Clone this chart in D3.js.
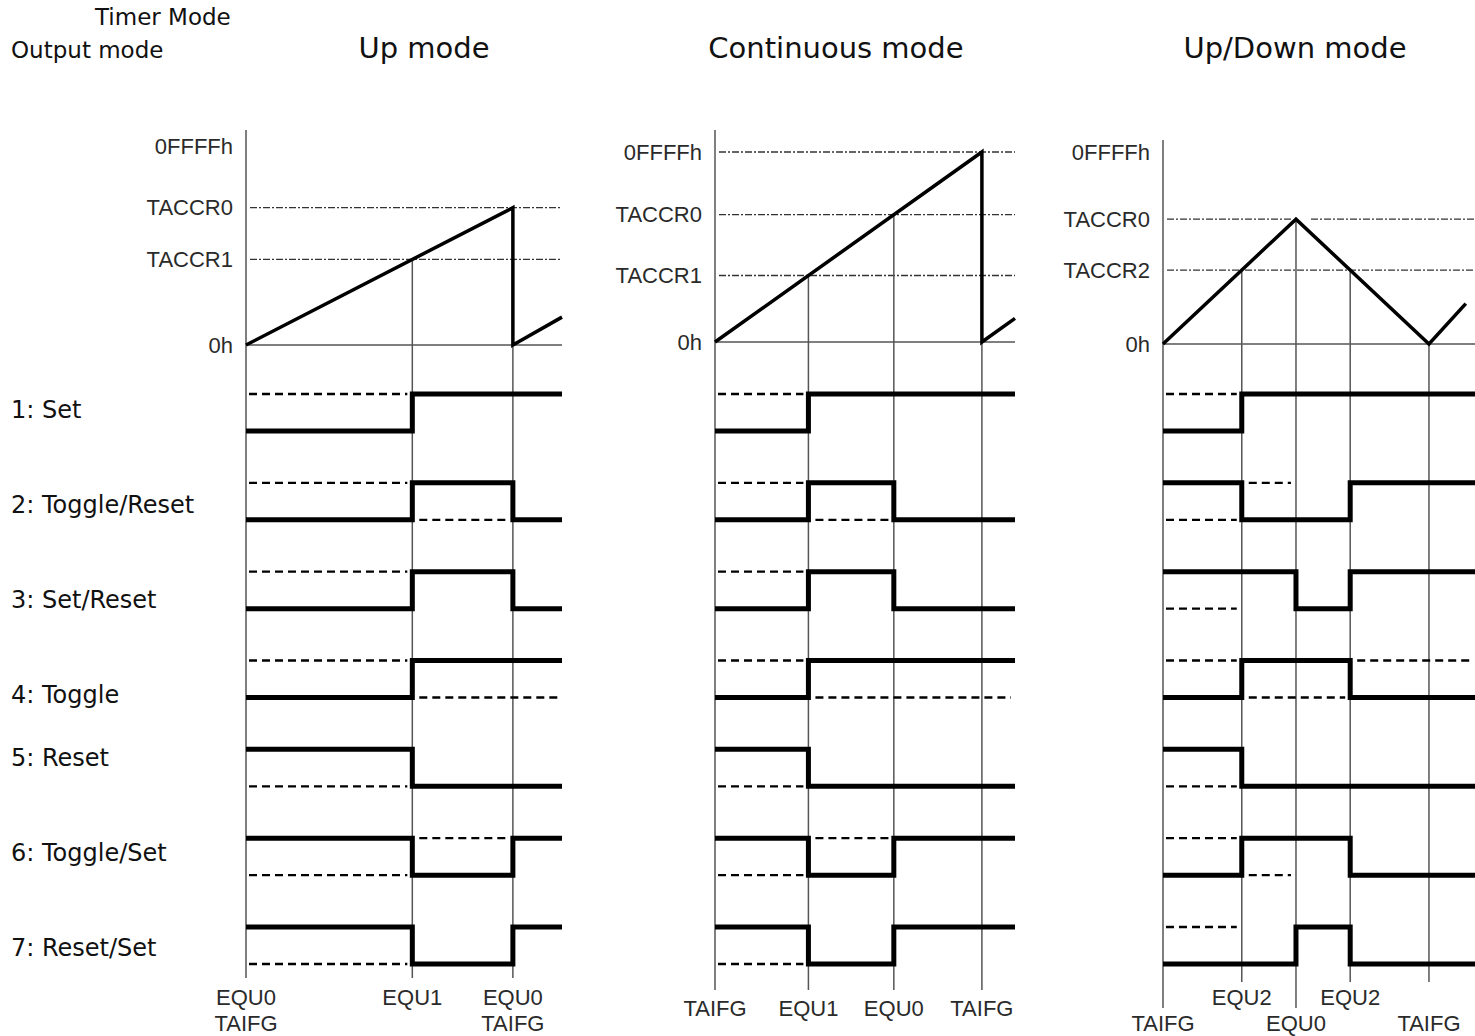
<!DOCTYPE html>
<html>
<head>
<meta charset="utf-8">
<title>Timer output modes</title>
<script src="https://cdn.jsdelivr.net/npm/d3@7"></script>
<style>
  body { margin: 0; background: #fff; }
  svg { display: block; }
  .label { font-family: "DejaVu Sans", Verdana, sans-serif; fill: #111; }
  .tick { font-family: "Liberation Sans", Arial, sans-serif; font-size: 22px; fill: #2a2a2a; }
</style>
</head>
<body>
<svg id="chart" width="1475" height="1036"></svg>
<script>
// timer modes and output modes
var modes = ["Up mode", "Continuous mode", "Up/Down mode"];
var outputModes = ["1: Set", "2: Toggle/Reset", "3: Set/Reset", "4: Toggle",
                   "5: Reset", "6: Toggle/Set", "7: Reset/Set"];

// counter levels (0FFFFh = 100)
var levelNames = [["0FFFFh", "TACCR0", "TACCR1", "0h"],
                  ["0FFFFh", "TACCR0", "TACCR1", "0h"],
                  ["0FFFFh", "TACCR0", "TACCR2", "0h"]];
var levelValues = [[100, 69, 43, 0], [100, 67, 35, 0], [100, 65, 38.5, 0]];
var levelDashed = [[false, true, true, false], [true, true, true, false], [false, true, true, false]];

// counter waveforms [time, count]
var counterUp = [[0, 0], [69, 69], [69, 0], [81.7, 14]];
var counterCont = [[0, 0], [100, 100], [100, 0], [112.4, 12.4]];
var counterUpDown = [[0, 0], [65, 65], [130, 0], [148, 21]];
var counters = [counterUp, counterCont, counterUpDown];
var timeEnd = [81.7, 112.4, 152.5];

// events
var eventTimes = [[0, 43, 69], [0, 35, 67, 100], [0, 38.5, 65, 91.5, 130]];
var eventValues = [[null, 43, 69], [null, 35, 67, 100], [null, 38.5, 65, 38.5, 0]];
var eventLabels = [
  [["EQU0", "TAIFG"], ["EQU1"], ["EQU0", "TAIFG"]],
  [["TAIFG"], ["EQU1"], ["EQU0"], ["TAIFG"]],
  [["", "TAIFG"], ["EQU2"], ["", "EQU0"], ["EQU2"], ["", "TAIFG"]]
];

// output level per interval between events (1 = high, 0 = low)
var outUp = [[0,1,1],[0,1,0],[0,1,0],[0,1,1],[1,0,0],[1,0,1],[1,0,1]];
var outCont = [[0,1,1,1],[0,1,0,0],[0,1,0,0],[0,1,1,1],[1,0,0,0],[1,0,1,1],[1,0,1,1]];
var outUpDown = [[0,1,1,1,1],[1,0,0,1,1],[1,1,0,1,1],[0,1,1,0,0],[1,0,0,0,0],[0,1,1,0,0],[0,0,1,0,0]];
var outputs = [outUp, outCont, outUpDown];

// dashed reference level per interval (null = none)
var n = null;
var refUp = [[1,n,n],[1,0,n],[1,n,n],[1,0,0],[0,n,n],[0,1,n],[0,n,n]];
var refCont = [[1,n,n,n],[1,0,n,n],[1,n,n,n],[1,0,0,0],[0,n,n,n],[0,1,n,n],[0,n,n,n]];
var refUpDown = [[1,n,n,n,n],[0,1,n,n,n],[0,n,n,n,n],[1,0,0,1,1],[0,n,n,n,n],[1,0,n,n,n],[1,n,n,n,n]];
var refs = [refUp, refCont, refUpDown];

// layout
var panels = [
  {x0: 246, x1: 562, yBase: 345, yTop: 146, axisTop: 130, titleX: 424, labelY: [997, 1023], lineEnd: [978, 978, 978]},
  {x0: 715, x1: 1015, yBase: 342, yTop: 152, axisTop: 130, titleX: 836, labelY: [1008], lineEnd: [990, 990, 990, 990]},
  {x0: 1163, x1: 1475, yBase: 344, yTop: 152, axisTop: 140, titleX: 1295, labelY: [997, 1023], lineEnd: [1008, 982, 1008, 982, 982]}
];
var rowLabelY = [410, 505, 600, 695, 758, 853, 948];

var svg = d3.select('#chart');
var row = d3.scalePoint().domain(outputModes).range([394, 927]);
var swing = 37;

svg.append('text').attr('class', 'label').attr('x', 95).attr('y', 17)
  .attr('dominant-baseline', 'central').style('font-size', '23px').text('Timer Mode');
svg.append('text').attr('class', 'label').attr('x', 11).attr('y', 50)
  .attr('dominant-baseline', 'central').style('font-size', '23px').text('Output mode');

svg.selectAll('.rowlabel').data(outputModes).enter()
  .append('text').attr('class', 'label rowlabel')
  .attr('x', 11).attr('y', function(d, i) { return rowLabelY[i]; })
  .attr('dominant-baseline', 'central').style('font-size', '24px')
  .text(function(d) { return d; });

panels.forEach(function(p, i) {
  var x = d3.scaleLinear().domain([0, timeEnd[i]]).range([p.x0, p.x1]);
  var y = d3.scaleLinear().domain([0, 100]).range([p.yBase, p.yTop]);
  var g = svg.append('g');

  g.append('text').attr('class', 'label').attr('x', p.titleX).attr('y', 48)
    .attr('text-anchor', 'middle').attr('dominant-baseline', 'central')
    .style('font-size', '29px').text(modes[i]);

  // level labels and dashed level lines
  levelValues[i].forEach(function(v, k) {
    g.append('text').attr('class', 'tick').attr('x', p.x0 - 13).attr('y', y(v))
      .attr('text-anchor', 'end').attr('dominant-baseline', 'central')
      .text(levelNames[i][k]);
    if (!levelDashed[i][k]) return;
    var segs = [[p.x0 + 4, p.x1]];
    if (i === 2 && v === 65) segs = [[p.x0 + 4, x(65) - 4], [x(65) + 15, p.x1]];
    segs.forEach(function(s) {
      g.append('line').attr('x1', s[0]).attr('x2', s[1]).attr('y1', y(v)).attr('y2', y(v))
        .attr('stroke', '#333').attr('stroke-width', 1.3).attr('stroke-dasharray', '7,2,2,2');
    });
  });

  // baseline
  g.append('line').attr('x1', p.x0).attr('x2', p.x1).attr('y1', y(0)).attr('y2', y(0))
    .attr('stroke', '#555').attr('stroke-width', 1.5);

  // event lines
  eventTimes[i].forEach(function(t, k) {
    var top = eventValues[i][k] === null ? p.axisTop : y(eventValues[i][k]);
    g.append('line').attr('x1', x(t)).attr('x2', x(t)).attr('y1', top).attr('y2', p.lineEnd[k])
      .attr('stroke', '#555').attr('stroke-width', 1.5);
    eventLabels[i][k].forEach(function(s, m) {
      if (!s) return;
      g.append('text').attr('class', 'tick').attr('x', x(t)).attr('y', p.labelY[m])
        .attr('text-anchor', 'middle').attr('dominant-baseline', 'central').text(s);
    });
  });

  // counter
  g.append('path')
    .attr('d', d3.line().x(function(d) { return x(d[0]); }).y(function(d) { return y(d[1]); })(counters[i]))
    .attr('fill', 'none').attr('stroke', '#000').attr('stroke-width', 3.5);

  // outputs
  var bounds = eventTimes[i].concat([timeEnd[i]]);
  outputs[i].forEach(function(levels, r) {
    var hi = row(outputModes[r]);
    var yl = function(v) { return v ? hi : hi + swing; };
    var pts = levels.map(function(v, k) { return [bounds[k], v]; });
    pts.push([timeEnd[i], levels[levels.length - 1]]);
    g.append('path')
      .attr('d', d3.line().curve(d3.curveStepAfter)
        .x(function(d) { return x(d[0]); }).y(function(d) { return yl(d[1]); })(pts))
      .attr('fill', 'none').attr('stroke', '#000').attr('stroke-width', 5)
      .attr('stroke-linejoin', 'miter');

    var rl = refs[i][r];
    var k = 0;
    while (k < rl.length) {
      if (rl[k] === null) { k++; continue; }
      var s = k;
      while (k + 1 < rl.length && rl[k + 1] === rl[s]) k++;
      var xs = x(bounds[s]) + (s === 0 ? 3 : 7);
      var xe = x(bounds[k + 1]) - (k + 1 === rl.length ? 4 : 5);
      g.append('line').attr('x1', xs).attr('x2', xe).attr('y1', yl(rl[s])).attr('y2', yl(rl[s]))
        .attr('stroke', '#000').attr('stroke-width', 2.3).attr('stroke-dasharray', '8,5');
      k++;
    }
  });
});
</script>
</body>
</html>
